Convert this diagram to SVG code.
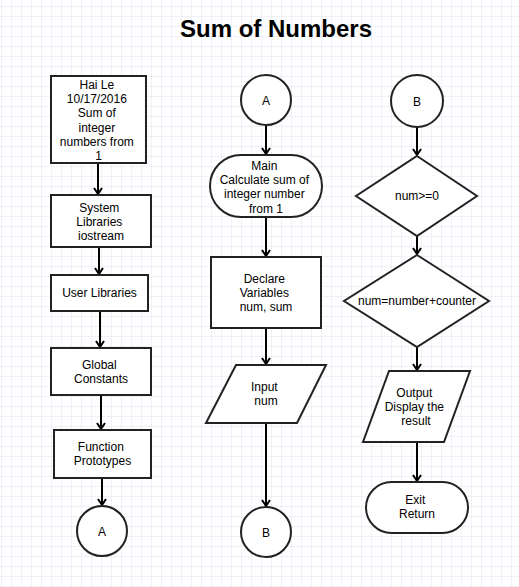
<svg xmlns="http://www.w3.org/2000/svg" width="519" height="587" viewBox="0 0 519 587">
  <style>
    .shape { fill: #ffffff; stroke: #222222; stroke-width: 2; }
    .label { font-family: "Liberation Sans", Arial, sans-serif; font-size: 12px; fill: #000000; text-anchor: middle; }
    .title { font-family: "Liberation Sans", Arial, sans-serif; font-size: 24px; font-weight: bold; fill: #000000; text-anchor: middle; }
    .edge { fill: none; stroke: #000000; stroke-width: 2; }
  </style>
  <defs>
    <pattern id="grid" x="1" y="6" width="10" height="10" patternUnits="userSpaceOnUse">
      <path d="M 0 0 L 10 0 M 0 0 L 0 10" fill="none" stroke="#e2e2f4" stroke-width="1"/>
    </pattern>
    <marker id="arrow" markerWidth="10" markerHeight="10" refX="8" refY="5" orient="auto" markerUnits="userSpaceOnUse">
      <path d="M 2 1 L 8 5 L 2 9" fill="none" stroke="#000000" stroke-width="2"/>
    </marker>
  </defs>

  <rect x="0" y="0" width="519" height="587" fill="#ffffff"/>
  <rect x="0" y="0" width="519" height="587" fill="url(#grid)"/>

  <text class="title" x="276" y="37">Sum of Numbers</text>

  <!-- connectors -->
  <g id="connectors">
    <line class="edge" x1="98" y1="163" x2="98" y2="194" marker-end="url(#arrow)"/>
    <line class="edge" x1="99" y1="247" x2="99" y2="274" marker-end="url(#arrow)"/>
    <line class="edge" x1="100" y1="311" x2="100" y2="347" marker-end="url(#arrow)"/>
    <line class="edge" x1="101" y1="395" x2="101" y2="429" marker-end="url(#arrow)"/>
    <line class="edge" x1="102" y1="478" x2="102" y2="505" marker-end="url(#arrow)"/>

    <line class="edge" x1="266" y1="125" x2="266" y2="154" marker-end="url(#arrow)"/>
    <line class="edge" x1="266" y1="217" x2="266" y2="256" marker-end="url(#arrow)"/>
    <line class="edge" x1="266" y1="328" x2="266" y2="364" marker-end="url(#arrow)"/>
    <line class="edge" x1="266" y1="423" x2="266" y2="506" marker-end="url(#arrow)"/>

    <line class="edge" x1="417" y1="127" x2="417" y2="155" marker-end="url(#arrow)"/>
    <line class="edge" x1="417" y1="236" x2="417" y2="254" marker-end="url(#arrow)"/>
    <line class="edge" x1="417" y1="347" x2="417" y2="370" marker-end="url(#arrow)"/>
    <line class="edge" x1="417" y1="442" x2="417" y2="481" marker-end="url(#arrow)"/>
  </g>

  <!-- left column -->
  <g id="header">
    <rect class="shape" x="51" y="76" width="95" height="87"/>
    <text class="label" x="98.5" y="89">
      <tspan x="98.5" dy="0">Hai Le</tspan>
      <tspan x="98.5" dy="14.2">10/17/2016</tspan>
      <tspan x="98.5" dy="14.2">Sum of</tspan>
      <tspan x="98.5" dy="14.2">integer</tspan>
      <tspan x="98.5" dy="14.2">numbers from</tspan>
      <tspan x="98.5" dy="14.2">1</tspan>
    </text>
  </g>
  <g id="system-libraries">
    <rect class="shape" x="51" y="195" width="100" height="52"/>
    <text class="label" x="101" y="212">
      <tspan x="101" dy="0">System</tspan>
      <tspan x="101" dy="14.2">Libraries</tspan>
      <tspan x="101" dy="14.2">iostream</tspan>
    </text>
  </g>
  <g id="user-libraries">
    <rect class="shape" x="51" y="275" width="97" height="36"/>
    <text class="label" x="99.5" y="297">User Libraries</text>
  </g>
  <g id="global-constants">
    <rect class="shape" x="51" y="348" width="100" height="47"/>
    <text class="label" x="101" y="369">
      <tspan x="101" dy="0">Global</tspan>
      <tspan x="101" dy="14.2">Constants</tspan>
    </text>
  </g>
  <g id="function-prototypes">
    <rect class="shape" x="54" y="430" width="97" height="48"/>
    <text class="label" x="102.5" y="451">
      <tspan x="102.5" dy="0">Function</tspan>
      <tspan x="102.5" dy="14.2">Prototypes</tspan>
    </text>
  </g>
  <g id="connector-a-out">
    <circle class="shape" cx="102" cy="531" r="25"/>
    <text class="label" x="102" y="536">A</text>
  </g>

  <!-- middle column -->
  <g id="connector-a-in">
    <circle class="shape" cx="266" cy="100" r="25"/>
    <text class="label" x="266" y="105">A</text>
  </g>
  <g id="main">
    <rect class="shape" x="210" y="155" width="112" height="62" rx="31" ry="31"/>
    <text class="label" x="266" y="170">
      <tspan x="266" dy="0">Main</tspan>
      <tspan x="266" dy="14.2">Calculate sum of</tspan>
      <tspan x="266" dy="14.2">integer number</tspan>
      <tspan x="266" dy="14.2">from 1</tspan>
    </text>
  </g>
  <g id="declare-variables">
    <rect class="shape" x="211" y="257" width="110" height="71"/>
    <text class="label" x="266" y="283">
      <tspan x="266" dy="0">Declare</tspan>
      <tspan x="266" dy="14.2">Variables</tspan>
      <tspan x="266" dy="14.2">num, sum</tspan>
    </text>
  </g>
  <g id="input-num">
    <polygon class="shape" points="236,365 326,365 297,423 206,423"/>
    <text class="label" x="266" y="391">
      <tspan x="266" dy="0">Input</tspan>
      <tspan x="266" dy="14.2">num</tspan>
    </text>
  </g>
  <g id="connector-b-out">
    <circle class="shape" cx="266" cy="532" r="25"/>
    <text class="label" x="266" y="537">B</text>
  </g>

  <!-- right column -->
  <g id="connector-b-in">
    <circle class="shape" cx="417" cy="101" r="26"/>
    <text class="label" x="417" y="106">B</text>
  </g>
  <g id="check-num">
    <polygon class="shape" points="417,156 477,196 417,236 356,196"/>
    <text class="label" x="417" y="200">num&gt;=0</text>
  </g>
  <g id="add-counter">
    <polygon class="shape" points="417,255 489,301 417,347 344,301"/>
    <text class="label" x="417" y="305">num=number+counter</text>
  </g>
  <g id="output-result">
    <polygon class="shape" points="389,371 470,371 444,442 363,442"/>
    <text class="label" x="416" y="397">
      <tspan x="416" dy="0">Output</tspan>
      <tspan x="416" dy="14.2">Display the</tspan>
      <tspan x="416" dy="14.2">result</tspan>
    </text>
  </g>
  <g id="exit">
    <rect class="shape" x="366" y="482" width="102" height="51" rx="25.5" ry="25.5"/>
    <text class="label" x="417" y="504">
      <tspan x="417" dy="0">Exit</tspan>
      <tspan x="417" dy="14.2">Return</tspan>
    </text>
  </g>
</svg>
